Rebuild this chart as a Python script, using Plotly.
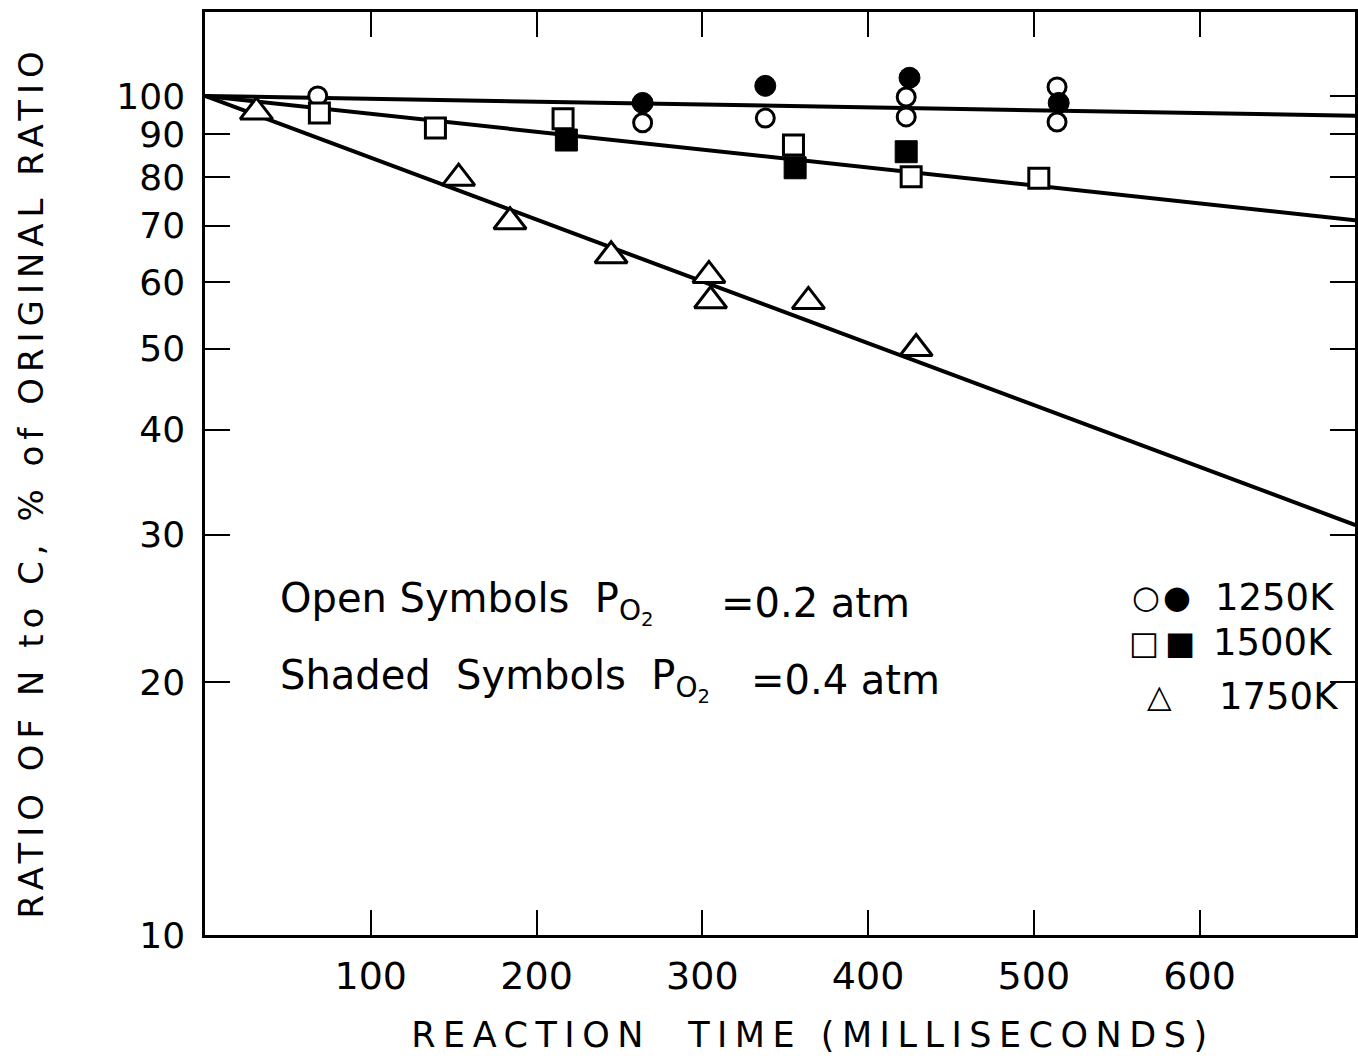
import plotly.graph_objects as go

# ---------------- data ----------------
# 1250 K, open symbols (P_O2 = 0.2 atm)
t_1250_open = [68, 264, 338, 423, 423, 514, 514]
r_1250_open = [100, 92.9, 94.1, 99.7, 94.4, 102.5, 93.1]
# 1250 K, shaded symbols (P_O2 = 0.4 atm)
t_1250_shaded = [264, 338, 425, 515]
r_1250_shaded = [98.1, 102.8, 105.1, 98.1]

# 1500 K, open symbols
t_1500_open = [69, 139, 216, 355, 426, 503]
r_1500_open = [95.4, 91.6, 93.9, 87.4, 80.1, 79.8]
# 1500 K, shaded symbols
t_1500_shaded = [218, 356, 423]
r_1500_shaded = [88.6, 82.1, 85.8]

# 1750 K, open symbols
t_1750_open = [31, 153, 184, 245, 304, 305, 364, 429]
r_1750_open = [95.7, 79.8, 70.8, 64.5, 61.1, 57.0, 56.9, 50.0]

# fitted straight lines (on the log scale) start at 100 %
fit_t = [0, 694]
fit_1250 = [100, 94.7]
fit_1500 = [100, 71.1]
fit_1750 = [100, 30.8]

x_ticks = [100, 200, 300, 400, 500, 600]
y_ticks = [10, 20, 30, 40, 50, 60, 70, 80, 90, 100]
y_ticktext = ["10", "20", "30", "40", "50", "60", "70", "80", "90", "100"]

legend_labels = ["1250K", "1500K", "1750K"]

# ---------------- figure ----------------
W, H = 1358, 1059
ML, MR, MT, MB = 205, 0, 12, 124
PW, PH = W - ML - MR, H - MT - MB
FONT = "DejaVu Sans"


def px(xp):
    return (xp - ML) / PW


def py(yp):
    return (H - MB - yp) / PH


fig = go.Figure()

for ys in (fit_1250, fit_1500, fit_1750):
    fig.add_trace(go.Scatter(x=fit_t, y=ys, mode="lines",
                             line=dict(color="black", width=4),
                             hoverinfo="skip", showlegend=False))

open_style = dict(color="white", line=dict(color="black", width=3))
shaded_style = dict(color="black", line=dict(color="black", width=1))

fig.add_trace(go.Scatter(x=t_1250_open, y=r_1250_open, mode="markers",
                         marker=dict(symbol="circle", size=18, **open_style),
                         showlegend=False))
fig.add_trace(go.Scatter(x=t_1250_shaded, y=r_1250_shaded, mode="markers",
                         marker=dict(symbol="circle", size=21, **shaded_style),
                         showlegend=False))
fig.add_trace(go.Scatter(x=t_1500_open, y=r_1500_open, mode="markers",
                         marker=dict(symbol="square", size=20, **open_style),
                         showlegend=False))
fig.add_trace(go.Scatter(x=t_1500_shaded, y=r_1500_shaded, mode="markers",
                         marker=dict(symbol="square", size=22, **shaded_style),
                         showlegend=False))
fig.add_trace(go.Scatter(x=t_1750_open, y=r_1750_open, mode="markers",
                         marker=dict(symbol="triangle-up", size=28, **open_style),
                         showlegend=False))

axis_common = dict(showgrid=False, zeroline=False, showline=True,
                   linecolor="black", linewidth=2.5, mirror="ticks",
                   ticks="inside", ticklen=25, tickwidth=2, tickcolor="black")

fig.update_xaxes(range=[0, PW / 1.662], tickvals=x_ticks,
                 ticklabelstandoff=6,
                 tickfont=dict(family=FONT, size=38, color="black"),
                 **axis_common)
fig.update_yaxes(type="log", range=[1, 2.1], tickvals=y_ticks,
                 ticktext=y_ticktext, ticklabelstandoff=10,
                 tickfont=dict(family=FONT, size=36, color="black"),
                 **axis_common)

ann = []
# axis titles (index 0 and 1 get extra letter spacing below)
ann.append(dict(text="REACTION  TIME (MILLISECONDS)", x=px(815), y=py(1035),
                font=dict(family=FONT, size=35, color="black")))
ann.append(dict(text="RATIO OF N to C, % of ORIGINAL RATIO", x=px(31), y=py(482),
                textangle=-90, font=dict(family=FONT, size=34, color="black")))
# notes
note_font = dict(family=FONT, size=40, color="black")
ann.append(dict(text="Open Symbols  P<sub>O<sub>2</sub></sub>", x=px(278), y=py(603),
                xanchor="left", font=note_font))
ann.append(dict(text="=0.2 atm", x=px(720), y=py(603), xanchor="left", font=note_font))
ann.append(dict(text="Shaded  Symbols  P<sub>O<sub>2</sub></sub>", x=px(278), y=py(680),
                xanchor="left", font=note_font))
ann.append(dict(text="=0.4 atm", x=px(750), y=py(680), xanchor="left", font=note_font))
# legend
sym_font = dict(family=FONT, size=32, color="black")
for sym, xp, yp in [("\u25CB", 1148, 597), ("\u25CF", 1180, 597),
                    ("\u25A1", 1146, 643), ("\u25A0", 1183, 643),
                    ("\u25B3", 1162, 696)]:
    ann.append(dict(text=sym, x=px(xp), y=py(yp), font=sym_font))
for lab, xl, yp in zip(legend_labels, [1216, 1214, 1220], [597, 643, 696]):
    ann.append(dict(text=lab, x=px(xl), y=py(yp), xanchor="left",
                    font=dict(family=FONT, size=37, color="black")))

for a in ann:
    a.setdefault("xanchor", "center")
    a.update(xref="paper", yref="paper", yanchor="middle", showarrow=False)

fig.update_layout(width=W, height=H, margin=dict(l=ML, r=MR, t=MT, b=MB),
                  paper_bgcolor="white", plot_bgcolor="white",
                  annotations=ann, showlegend=False)

# the hand lettering of the original is widely spaced: widen the axis titles
post = (
    "var s=document.createElement('style');"
    "s.textContent='.annotation[data-index=\"0\"] text{letter-spacing:7.5px}"
    ".annotation[data-index=\"1\"] text{letter-spacing:6px}';"
    "document.head.appendChild(s);"
)
fig.write_html("out.html", post_script=post)
